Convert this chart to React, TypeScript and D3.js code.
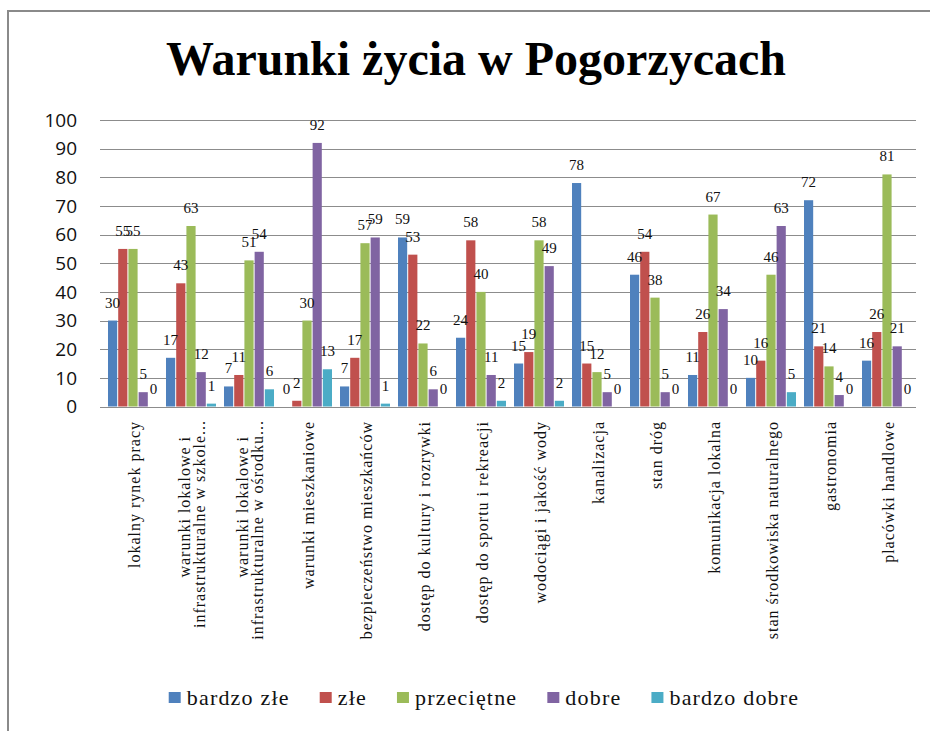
import React, { useEffect, useRef } from 'react';
import * as d3 from 'd3';

const categories: string[][] = [
  ['lokalny rynek pracy'],
  ['warunki lokalowe i', 'infrastrukturalne w szkole...'],
  ['warunki lokalowe i', 'infrastrukturalne w ośrodku...'],
  ['warunki mieszkaniowe'],
  ['bezpieczeństwo mieszkańców'],
  ['dostęp do kultury i rozrywki'],
  ['dostęp do sportu i rekreacji'],
  ['wodociągi i jakość wody'],
  ['kanalizacja'],
  ['stan dróg'],
  ['komunikacja lokalna'],
  ['stan środkowiska naturalnego'],
  ['gastronomia'],
  ['placówki handlowe'],
];

const seriesNames = ['bardzo złe', 'złe', 'przeciętne', 'dobre', 'bardzo dobre'];
const bardzoZle = [30, 17, 7, 0, 7, 59, 24, 15, 78, 46, 11, 10, 72, 16];
const zle = [55, 43, 11, 2, 17, 53, 58, 19, 15, 54, 26, 16, 21, 26];
const przecietne = [55, 63, 51, 30, 57, 22, 40, 58, 12, 38, 67, 46, 14, 81];
const dobre = [5, 12, 54, 92, 59, 6, 11, 49, 5, 5, 34, 63, 4, 21];
const bardzoDobre = [0, 1, 6, 13, 1, 0, 2, 2, 0, 0, 0, 5, 0, 0];
const yTicks = [0, 10, 20, 30, 40, 50, 60, 70, 80, 90, 100];
const colors = ['#4F81BD', '#C0504D', '#9BBB59', '#8064A2', '#4BACC6'];

const title = 'Warunki życia w Pogorzycach';

export default function App() {
  const ref = useRef<HTMLDivElement>(null);

  useEffect(() => {
    const series = [bardzoZle, zle, przecietne, dobre, bardzoDobre];
    const W = 930, H = 731;
    const left = 104, right = 916, top = 120, bottom = 406.5;

    d3.select(ref.current).selectAll('svg').remove();
    const svg = d3.select(ref.current)
      .append('svg')
      .attr('width', W)
      .attr('height', H)
      .style('position', 'absolute')
      .style('left', '0px')
      .style('top', '0px')
      .style('background', '#fff');

    // frame
    svg.append('path')
      .attr('d', `M8,${H} L8,11 L${W},11`)
      .attr('fill', 'none')
      .attr('stroke', '#8a8a8a')
      .attr('stroke-width', 2);

    svg.append('text')
      .attr('x', 476)
      .attr('y', 75)
      .attr('text-anchor', 'middle')
      .attr('font-family', '"Liberation Serif", "Times New Roman", serif')
      .attr('font-weight', 'bold')
      .attr('font-size', 48)
      .text(title);

    const x0 = d3.scaleBand<number>()
      .domain(d3.range(categories.length))
      .range([left, right])
      .paddingInner(8 / 58)
      .paddingOuter(4 / 58);
    const x1 = d3.scaleBand<number>()
      .domain(d3.range(series.length))
      .range([0, x0.bandwidth()])
      .paddingInner(0.1);
    const y = d3.scaleLinear().domain([0, 100]).range([bottom, top]);

    // grid + ticks
    svg.append('g').selectAll('line')
      .data(yTicks)
      .enter()
      .append('line')
      .attr('x1', left - 4)
      .attr('x2', right)
      .attr('y1', d => Math.round(y(d)) + 0.5)
      .attr('y2', d => Math.round(y(d)) + 0.5)
      .attr('stroke', '#8c8c8c')
      .attr('stroke-width', 1);

    svg.append('g').selectAll('text')
      .data(yTicks)
      .enter()
      .append('text')
      .attr('x', 77)
      .attr('y', d => y(d))
      .attr('dy', '0.36em')
      .attr('text-anchor', 'end')
      .attr('font-family', '"Open Sans", "DejaVu Sans", sans-serif')
      .attr('font-size', 19)
      .attr('fill', '#111')
      .text(d => d);

    const groups = svg.append('g').selectAll('g')
      .data(categories.map((_, i) => i))
      .enter()
      .append('g')
      .attr('transform', i => `translate(${x0(i)},0)`);

    groups.selectAll('rect')
      .data(i => series.map((s, k) => ({ k, v: s[i] })))
      .enter()
      .append('rect')
      .attr('x', d => x1(d.k)!)
      .attr('y', d => y(d.v))
      .attr('width', x1.bandwidth())
      .attr('height', d => bottom - y(d.v))
      .attr('fill', d => colors[d.k]);

    groups.selectAll('text')
      .data(i => series.map((s, k) => ({ k, v: s[i] })))
      .enter()
      .append('text')
      .attr('x', d => x1(d.k)! + x1.bandwidth() / 2)
      .attr('y', d => y(d.v) - 13)
      .attr('text-anchor', 'middle')
      .attr('font-family', '"Liberation Serif", "Times New Roman", serif')
      .attr('font-size', 15)
      .attr('fill', '#111')
      .text(d => d.v);

    // category labels
    const catG = svg.append('g');
    categories.forEach((lines, i) => {
      const c = x0(i)! + x0.bandwidth() / 2;
      lines.forEach((line, j) => {
        let bx: number, ey: number;
        if (lines.length === 1) {
          bx = c + 7; ey = 421;
        } else {
          bx = j === 0 ? c - 1 : c + 14;
          ey = j === 0 ? 436 : 420;
        }
        catG.append('text')
          .attr('transform', `translate(${bx},${ey}) rotate(-90)`)
          .attr('text-anchor', 'end')
          .attr('font-family', '"Liberation Serif", "Times New Roman", serif')
          .attr('font-size', 16)
          .attr('letter-spacing', 1)
          .attr('fill', '#111')
          .text(line);
      });
    });

    // legend
    const leg = svg.append('g');
    const items = seriesNames.map((name, k) => {
      const g = leg.append('g');
      g.append('rect')
        .attr('x', 0).attr('y', 692)
        .attr('width', 12).attr('height', 11)
        .attr('fill', colors[k]);
      const t = g.append('text')
        .attr('x', 18)
        .attr('y', 705)
        .attr('font-family', '"Liberation Serif", "Times New Roman", serif')
        .attr('font-size', 22)
        .attr('letter-spacing', 1.2)
        .attr('fill', '#111')
        .text(name);
      const w = 18 + (t.node() as SVGTextElement).getComputedTextLength();
      return { g, w };
    });
    const gap = 30;
    const total = d3.sum(items, d => d.w) + gap * (items.length - 1);
    let cx = 484 - total / 2;
    items.forEach(it => {
      it.g.attr('transform', `translate(${cx},0)`);
      cx += it.w + gap;
    });
  }, []);

  return <div ref={ref}></div>;
}
